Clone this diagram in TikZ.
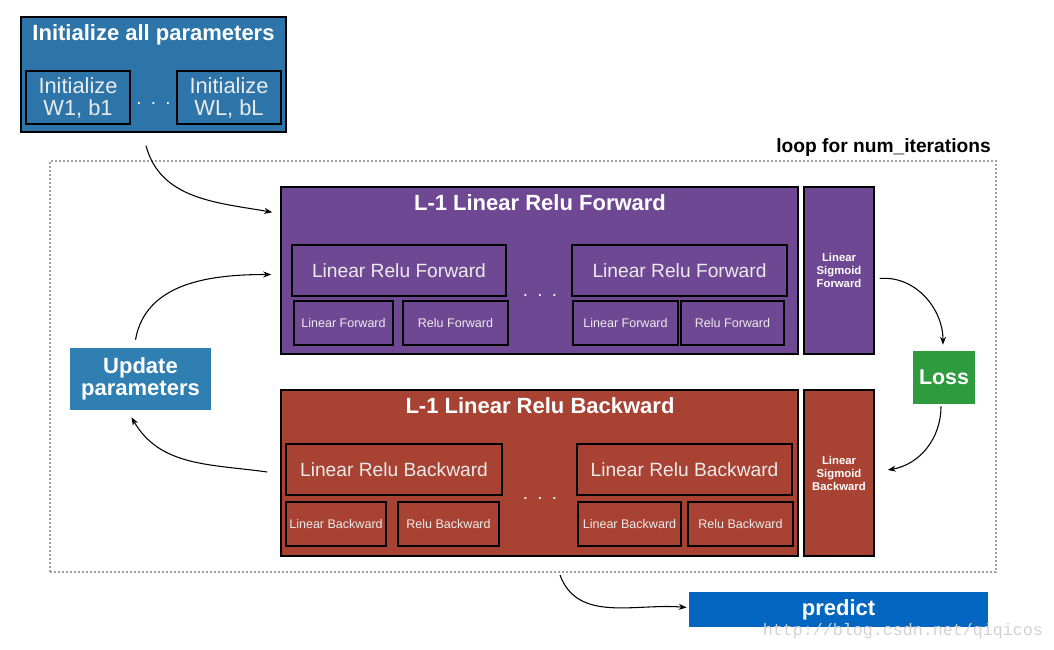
\documentclass[tikz,border=0pt]{standalone}
\usepackage{fontspec}
\setmainfont{Liberation Sans}
\newfontfamily\markfont{Liberation Mono}
\usetikzlibrary{arrows.meta}
\definecolor{initblue}{RGB}{45,117,168}
\definecolor{updblue}{RGB}{47,127,178}
\definecolor{fwdpurple}{RGB}{111,72,148}
\definecolor{bwdred}{RGB}{168,66,50}
\definecolor{lossgreen}{RGB}{47,155,63}
\definecolor{predblue}{RGB}{2,102,192}
\definecolor{loopgray}{RGB}{160,160,160}

\tikzset{
  sz/.style 2 args={minimum width=#1*0.75pt,minimum height=#2*0.75pt},
  box/.style={draw=black,line width=1.1pt,inner sep=0pt,align=center,text=white},
  subbox/.style={box,line width=1.4pt},
  flatbox/.style={inner sep=0pt,align=center,text=white},
  ttl/.style={font=\fontsize{16.5}{16.5}\selectfont\bfseries,text=white,inner sep=0pt,align=center},
  midtxt/.style={font=\fontsize{14.4}{17}\selectfont,text=white!92!black},
  smalltxt/.style={font=\fontsize{9.4}{11}\selectfont,text=white!92!black},
  sigtxt/.style={font=\fontsize{8.5}{9.75}\selectfont\bfseries},
  dotstxt/.style={flatbox,font=\fontsize{14}{16}\selectfont},
  arr/.style={-{Stealth[length=6pt,width=4.5pt]},line width=0.8pt},
}

\begin{document}
\begin{tikzpicture}[x=0.75pt,y=0.75pt,yscale=-1,xscale=1]
\useasboundingbox (0,0) rectangle (1054,650);

%Loop frame
\node[draw=loopgray,line width=1.5pt,dash pattern=on 1.5pt off 1.5pt,sz={946}{411}] (loop) at (523,366.5) {};
\node[anchor=south east,inner sep=0pt,font=\fontsize{14.4}{17}\selectfont\bfseries] (looplbl) at ([shift={(-6,-3)}]loop.north east) {loop for num\_iterations};

%Initialize all parameters
\node[box,fill=initblue,sz={265}{115}] (init) at (153.5,74.5) {};
\node[ttl] (inittl) at (153.5,35) {Initialize all parameters};
\node[subbox,fill=initblue,sz={104}{53},font=\fontsize{16.4}{16.5}\selectfont,text=white!92!black] (initA) at (78,97.5) {Initialize\\W1, b1};
\node[subbox,fill=initblue,sz={104}{53},font=\fontsize{16.4}{16.5}\selectfont,text=white!92!black] (initB) at (229,97.5) {Initialize\\WL, bL};
\node[dotstxt] (dotsI) at (153.5,104) {.\,\,\,.\,\,\,.};

%L-1 Linear Relu Forward
\node[box,fill=fwdpurple,sz={517}{167}] (fwd) at (539.5,270.5) {};
\node[ttl] (fwdttl) at (540,203) {L-1 Linear Relu Forward};
\node[subbox,fill=fwdpurple,sz={214}{51},midtxt] (lrf1) at (399,270.5) {Linear Relu Forward};
\node[subbox,fill=fwdpurple,sz={215}{51},midtxt] (lrf2) at (679.5,270.5) {Linear Relu Forward};
\node[subbox,fill=fwdpurple,sz={99}{44},smalltxt] (lf1) at (343.5,323) {Linear Forward};
\node[subbox,fill=fwdpurple,sz={105}{44},smalltxt] (rf1) at (455.5,323) {Relu Forward};
\node[subbox,fill=fwdpurple,sz={105}{44},smalltxt] (lf2) at (625.5,323) {Linear Forward};
\node[subbox,fill=fwdpurple,sz={103}{44},smalltxt] (rf2) at (732.5,323) {Relu Forward};
\node[dotstxt] (dotsF) at (540,295) {.\,\,\,.\,\,\,.};
\node[box,fill=fwdpurple,sz={70}{167},sigtxt] (lsf) at (839,270.5) {Linear\\Sigmoid\\Forward};

%L-1 Linear Relu Backward
\node[box,fill=bwdred,sz={517}{166}] (bwd) at (539.5,473) {};
\node[ttl] (bwdttl) at (540,406) {L-1 Linear Relu Backward};
\node[subbox,fill=bwdred,sz={216}{51},midtxt] (lrb1) at (394,469.5) {Linear Relu Backward};
\node[subbox,fill=bwdred,sz={215}{51},midtxt] (lrb2) at (684.5,469.5) {Linear Relu Backward};
\node[subbox,fill=bwdred,sz={100}{44},smalltxt] (lb1) at (336,524) {Linear Backward};
\node[subbox,fill=bwdred,sz={101}{44},smalltxt] (rb1) at (448.5,524) {Relu Backward};
\node[subbox,fill=bwdred,sz={103}{44},smalltxt] (lb2) at (629.5,524) {Linear Backward};
\node[subbox,fill=bwdred,sz={105}{44},smalltxt] (rb2) at (740.5,524) {Relu Backward};
\node[dotstxt] (dotsB) at (540,498) {.\,\,\,.\,\,\,.};
\node[box,fill=bwdred,sz={70}{166},sigtxt] (lsb) at (839,473) {Linear\\Sigmoid\\Backward};

%Loss, update, predict
\node[flatbox,fill=lossgreen,sz={62}{53},font=\fontsize{16}{16}\selectfont\bfseries] (loss) at (944,377.5) {Loss};
\node[flatbox,fill=updblue,sz={141}{62},font=\fontsize{16.5}{16.5}\selectfont\bfseries] (upd) at (140.5,379) {Update\\parameters};
\node[flatbox,fill=predblue,sz={299}{35},font=\fontsize{16.5}{16.5}\selectfont\bfseries] (pred) at (838.5,609.5) {predict};
\node[inner sep=0pt,text=gray!35,font=\markfont\fontsize{12.5}{14}\selectfont] (mark) at (903,631) {http://blog.csdn.net/qiqicos};

%Connectors
\draw[arr] ([shift={(-7.5,13)}]init.south) to[out=75,in=-170] ([shift={(-8,26)}]fwd.north west);
\draw[arr] ([shift={(-5,-8)}]upd.north) to[out=-80,in=180] ([shift={(-9,4)}]fwd.west);
\draw[arr] ([shift={(-13,-1)}]bwd.west) to[out=-172,in=60] ([shift={(-9,7)}]upd.south);
\draw[arr] ([shift={(5,8)}]lsf.east) to[out=-5,in=-90] ([shift={(-1,-6)}]loss.north);
\draw[arr] ([shift={(-3,2)}]loss.south) to[out=90,in=-10] ([shift={(13,-3)}]lsb.east);
\draw[arr] ([shift={(37,2)}]loop.south) to[out=70,in=-175] ([shift={(-2,-2)}]pred.west);

\end{tikzpicture}
\end{document}
